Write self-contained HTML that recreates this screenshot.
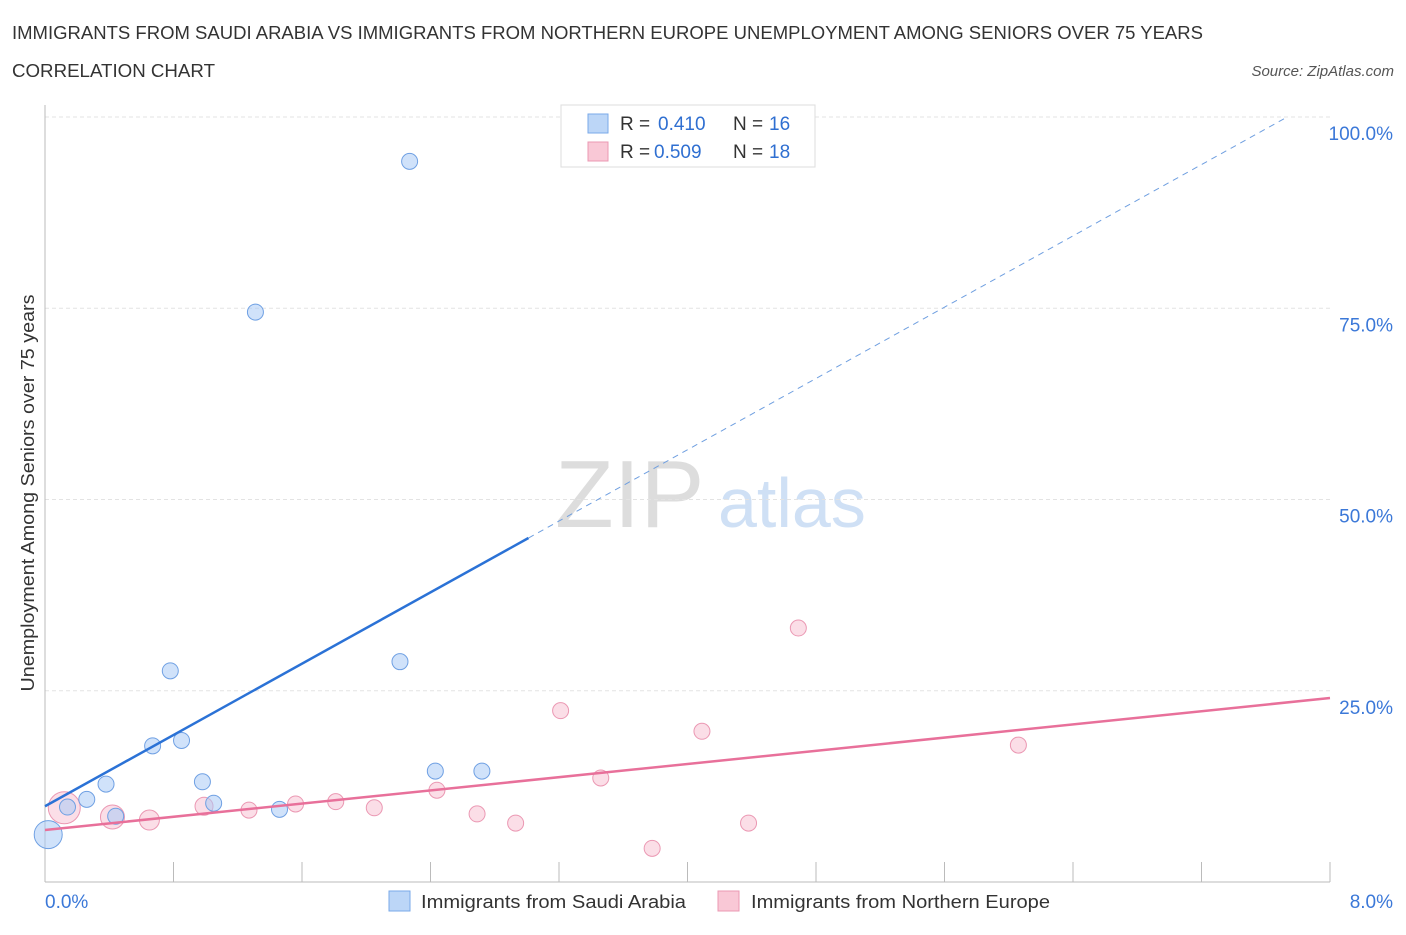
<!DOCTYPE html>
<html><head><meta charset="utf-8"><style>
body{margin:0;background:#fff;font-family:"Liberation Sans",sans-serif;}
svg text{font-family:"Liberation Sans",sans-serif;}
</style></head><body>
<svg width="1406" height="930" xmlns="http://www.w3.org/2000/svg" id="c">
<text x="12" y="39" font-size="18" fill="#333" textLength="1191" lengthAdjust="spacingAndGlyphs">IMMIGRANTS FROM SAUDI ARABIA VS IMMIGRANTS FROM NORTHERN EUROPE UNEMPLOYMENT AMONG SENIORS OVER 75 YEARS</text>
<text x="12" y="77" font-size="18" fill="#333" textLength="203" lengthAdjust="spacingAndGlyphs">CORRELATION CHART</text>
<text x="1394" y="76" font-size="15" fill="#555" text-anchor="end" font-style="italic">Source: ZipAtlas.com</text>
<text x="555" y="527" font-size="96" fill="#ddd" font-family="Liberation Serif">ZIP</text>
<text x="718" y="527" font-size="70" fill="#cfe0f5">atlas</text>
<text transform="translate(34,493) rotate(-90)" font-size="18" fill="#333" text-anchor="middle" textLength="397" lengthAdjust="spacingAndGlyphs">Unemployment Among Seniors over 75 years</text>
<g id="grid"></g><g id="marks"></g>
<g>
<rect x="561" y="105" width="254" height="62" fill="#fff" stroke="#ddd"/>
<rect x="588" y="114" width="20" height="19" fill="#bcd6f7" stroke="#7aa9e8"/>
<rect x="588" y="142" width="20" height="19" fill="#f9c8d6" stroke="#eb98b3"/>
<text x="620" y="130" font-size="19" fill="#333">R =</text>
<text x="658" y="130" font-size="19" fill="#2f6fd1">0.410</text>
<text x="733" y="130" font-size="19" fill="#333">N =</text>
<text x="769" y="130" font-size="19" fill="#2f6fd1">16</text>
<text x="620" y="158" font-size="19" fill="#333">R =</text>
<text x="654" y="158" font-size="19" fill="#2f6fd1">0.509</text>
<text x="733" y="158" font-size="19" fill="#333">N =</text>
<text x="769" y="158" font-size="19" fill="#2f6fd1">18</text>
</g>
<g>
<rect x="389" y="891" width="21" height="20" fill="#bcd6f7" stroke="#7aa9e8"/>
<text x="421" y="908" font-size="18" fill="#333" textLength="265" lengthAdjust="spacingAndGlyphs">Immigrants from Saudi Arabia</text>
<rect x="718" y="891" width="21" height="20" fill="#f9c8d6" stroke="#eb98b3"/>
<text x="751" y="908" font-size="18" fill="#333" textLength="299" lengthAdjust="spacingAndGlyphs">Immigrants from Northern Europe</text>
</g>
</svg>
<script>
const blueX=[0.02,0.14,0.26,0.38,0.44,0.67,0.78,0.85,0.98,1.05,1.31,1.46,2.21,2.27,2.43,2.72];
const blueY=[6.2,9.8,10.8,12.8,8.6,17.8,27.6,18.5,13.1,10.3,74.5,9.5,28.8,94.2,14.5,14.5];
const blueR=[14,8,8,8,8,8,8,8,8,8,8,8,8,8,8,8];
const pinkX=[0.12,0.42,0.65,0.99,1.27,1.56,1.81,2.05,2.44,2.69,2.93,3.21,3.46,3.78,4.09,4.38,4.69,6.06];
const pinkY=[9.7,8.5,8.1,9.9,9.4,10.2,10.5,9.7,12.0,8.9,7.7,22.4,13.6,4.4,19.7,7.7,33.2,17.9];
const pinkR=[16,12,10,9,8,8,8,8,8,8,8,8,8,8,8,8,8,8];
const yTicks=[25,50,75,100];
const yTickLabels=["25.0%","50.0%","75.0%","100.0%"];
const blueTrend=[9.9,11.65];
const pinkTrend=[6.8,2.156];
const NS="http://www.w3.org/2000/svg";
const sx=v=>45+v*(1285/8), sy=v=>882-v*7.65;
function mk(t,a,p){const e=document.createElementNS(NS,t);for(const k in a)e.setAttribute(k,a[k]);p.appendChild(e);return e;}
const g=document.getElementById('grid'),m=document.getElementById('marks');
yTicks.forEach((t,i)=>{
 const l=mk('line',{x1:45,x2:1330,y1:sy(t),y2:sy(t),stroke:'#e3e3e3','stroke-dasharray':'4,3'},g);
 
 
 const tx=mk('text',{x:1393,y:sy(t)+23,'font-size':19,fill:'#3b78d8','text-anchor':'end'},g);tx.textContent=yTickLabels[i];
 
 
});
const ax=mk('line',{x1:45,x2:1330,y1:882,y2:882,stroke:'#bbb'},g);


const ay=mk('line',{x1:45,x2:45,y1:105,y2:882,stroke:'#bbb'},g);


for(let i=0;i<=10;i++){const t=mk('line',{x1:sx(i*0.8),x2:sx(i*0.8),y1:862,y2:882,stroke:'#bbb'},g);
 
 }
const x0=mk('text',{x:45,y:908,'font-size':19,fill:'#3b78d8'},g);x0.textContent='0.0%';


const x8=mk('text',{x:1393,y:908,'font-size':19,fill:'#3b78d8','text-anchor':'end'},g);x8.textContent='8.0%';


pinkX.forEach((x,i)=>{const c=mk('circle',{cx:sx(x),cy:sy(pinkY[i]),r:pinkR[i],fill:'rgba(247,182,202,0.45)',stroke:'#eb98b3','stroke-width':1},m);
 
 });
blueX.forEach((x,i)=>{const c=mk('circle',{cx:sx(x),cy:sy(blueY[i]),r:blueR[i],fill:'rgba(170,202,245,0.55)',stroke:'#6fa0e3','stroke-width':1},m);
 
 });
const bl=mk('line',{x1:sx(0),y1:sy(blueTrend[0]),x2:sx(3.01),y2:sy(blueTrend[0]+blueTrend[1]*3.01),stroke:'#2b72d6','stroke-width':2.5},m);


const xe=(100-blueTrend[0])/blueTrend[1];
const bd=mk('line',{x1:sx(3.01),y1:sy(blueTrend[0]+blueTrend[1]*3.01),x2:sx(xe),y2:sy(100),stroke:'#6f9fe0','stroke-width':1,'stroke-dasharray':'6,5'},m);


const pl=mk('line',{x1:sx(0),y1:sy(pinkTrend[0]),x2:sx(8),y2:sy(pinkTrend[0]+pinkTrend[1]*8),stroke:'#e8709a','stroke-width':2.5},m);


</script>
</body></html>
